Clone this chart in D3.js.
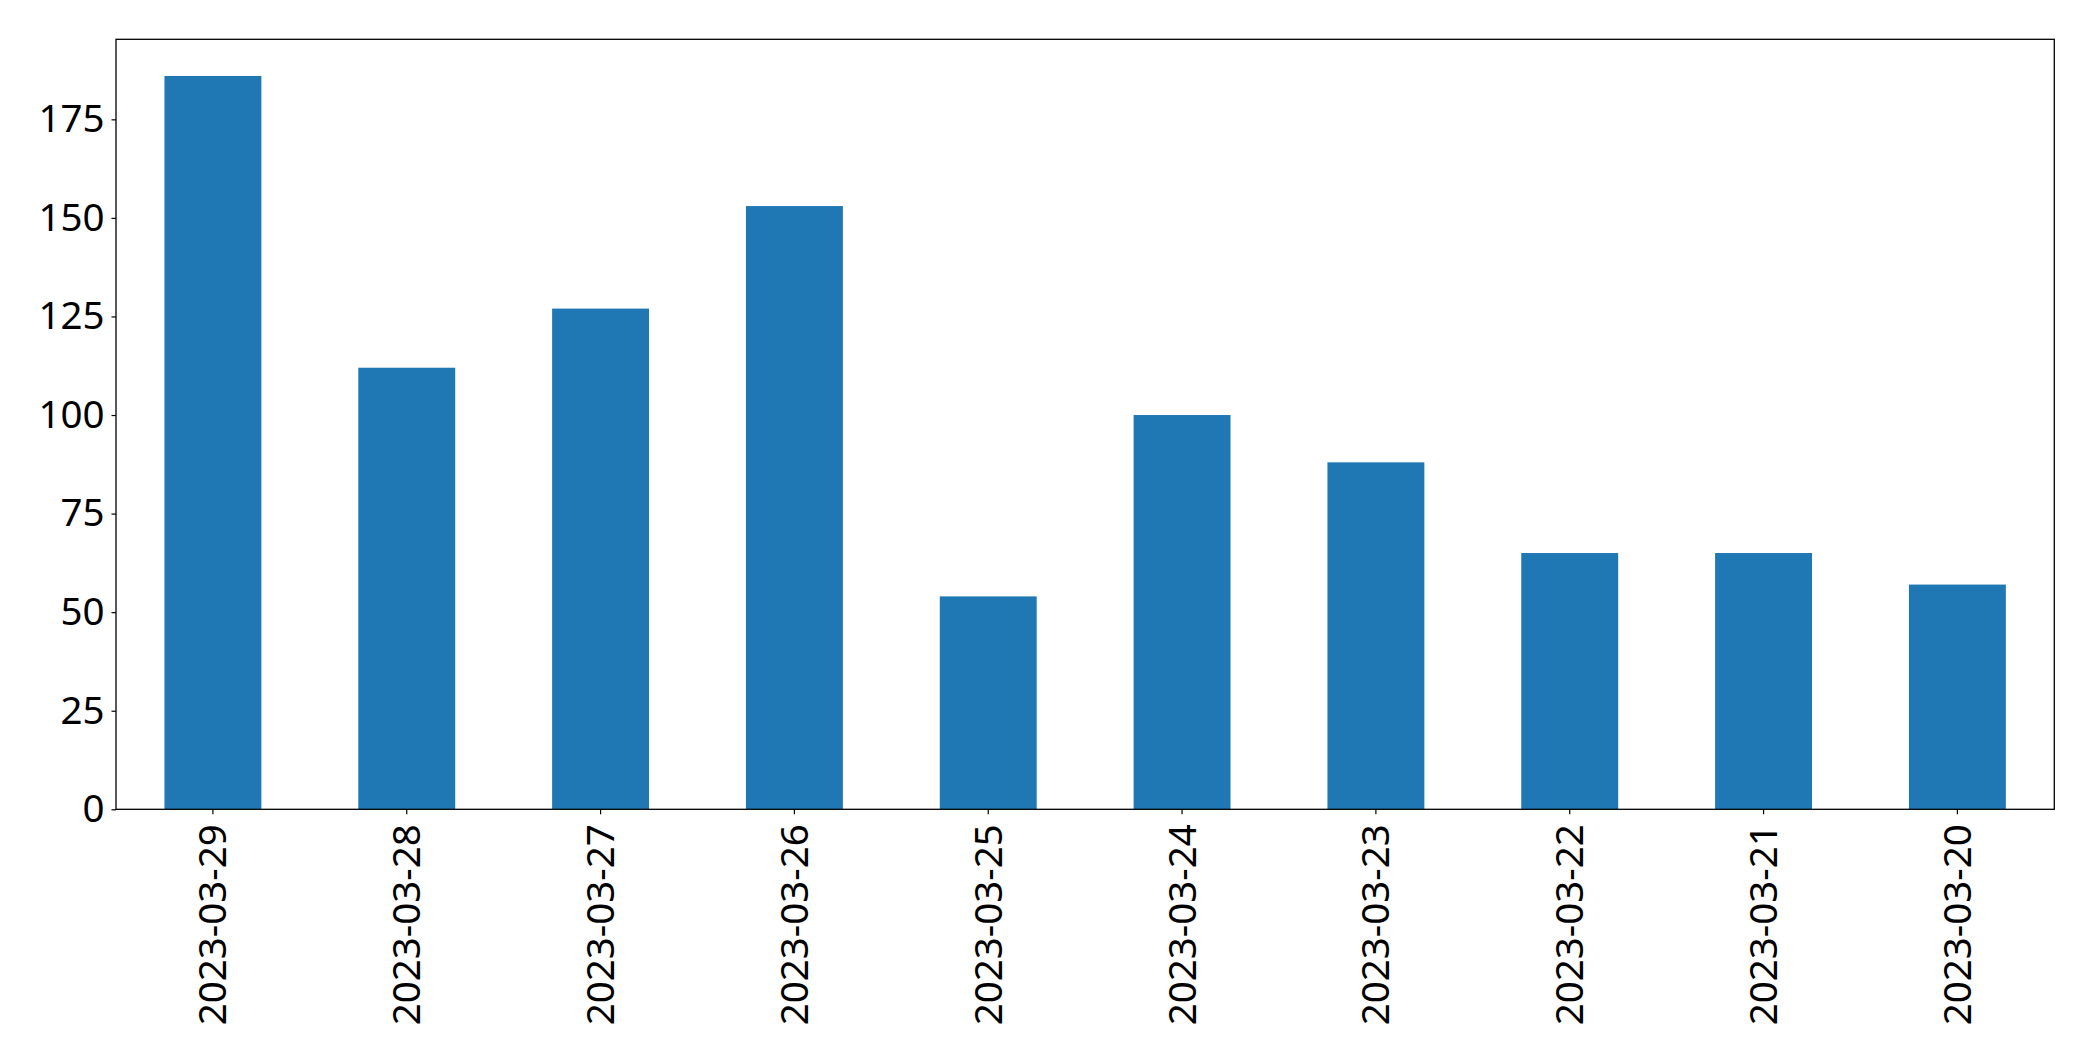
<!DOCTYPE html>
<html>
<head>
<meta charset="utf-8">
<script src="https://cdn.jsdelivr.net/npm/d3@7"></script>
<style>
  html, body { margin: 0; padding: 0; background: #fff; }
  svg { display: block; }
  text { font-family: "Noto Sans", "Open Sans", sans-serif; }
</style>
</head>
<body>
<div id="chart"></div>
<script>
const categories = ["2023-03-29","2023-03-28","2023-03-27","2023-03-26","2023-03-25","2023-03-24","2023-03-23","2023-03-22","2023-03-21","2023-03-20"];
const values = [186, 112, 127, 153, 54, 100, 88, 65, 65, 57];
const yTicks = [0, 25, 50, 75, 100, 125, 150, 175];

const W = 2093, H = 1061;
const m = { left: 116, top: 39.3, right: 2093 - 2054.3, bottom: 1061 - 809.3 };
const FS = 38.5;
const FONT = "'Noto Sans', 'Open Sans', sans-serif";

const svg = d3.select("#chart").append("svg").attr("width", W).attr("height", H);

const x = d3.scaleBand().domain(categories).range([m.left, W - m.right]).paddingInner(0.5).paddingOuter(0.25);
const y = d3.scaleLinear().domain([0, d3.max(values) * 1.05]).range([H - m.bottom, m.top]);

svg.append("g").selectAll("rect").data(values).join("rect")
  .attr("x", (d, i) => x(categories[i]))
  .attr("width", x.bandwidth())
  .attr("y", d => y(d))
  .attr("height", d => y(0) - y(d))
  .attr("fill", "#1f77b4");

// frame
svg.append("rect")
  .attr("x", m.left).attr("y", m.top)
  .attr("width", W - m.right - m.left).attr("height", H - m.bottom - m.top)
  .attr("fill", "none").attr("stroke", "#000").attr("stroke-width", 1.3);

const yAxis = svg.append("g").attr("transform", `translate(${m.left},0)`)
  .call(d3.axisLeft(y).tickValues(yTicks).tickSize(4.5).tickPadding(7).tickFormat(d3.format("d")));
yAxis.select(".domain").remove();
yAxis.selectAll("line").attr("stroke", "#000").attr("stroke-width", 1.2);
yAxis.selectAll("text").attr("font-size", FS).attr("fill", "#000").attr("font-family", FONT);

const xAxis = svg.append("g").attr("transform", `translate(0,${H - m.bottom})`)
  .call(d3.axisBottom(x).tickSize(5).tickPadding(0));
xAxis.select(".domain").remove();
xAxis.selectAll("line").attr("stroke", "#000").attr("stroke-width", 1.2);
xAxis.selectAll("text")
  .attr("font-size", FS).attr("fill", "#000").attr("font-family", FONT)
  .attr("transform", "rotate(-90)")
  .attr("text-anchor", "end")
  .attr("x", -15).attr("y", 0).attr("dy", "0.35em");
</script>
</body>
</html>
